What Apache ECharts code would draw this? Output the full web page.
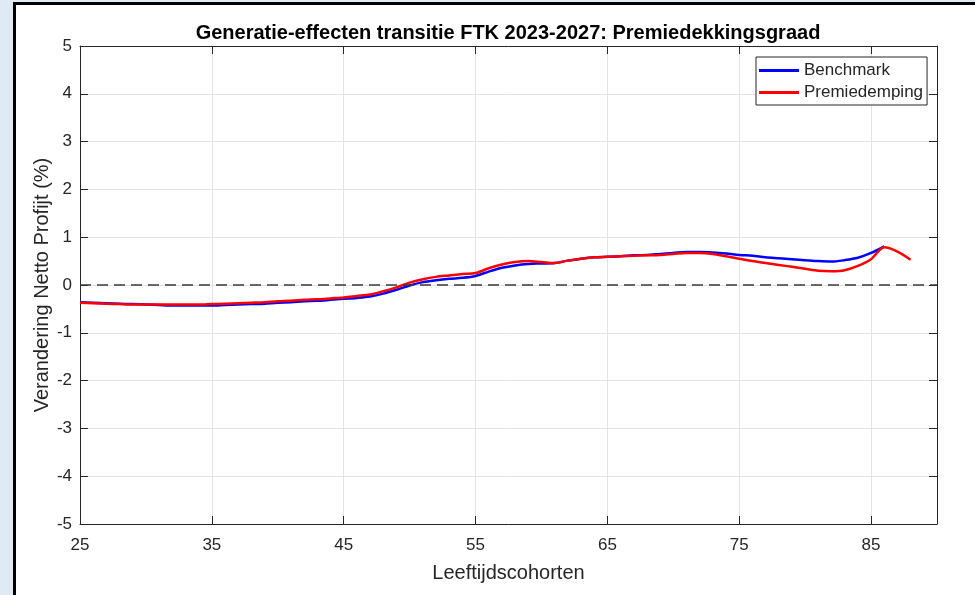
<!DOCTYPE html>
<html>
<head>
<meta charset="utf-8">
<script src="https://cdn.jsdelivr.net/npm/echarts@6/dist/echarts.min.js"></script>
<style>
  html, body { margin: 0; padding: 0; background: #dfeaf5; overflow: hidden; }
  .frame { position: absolute; left: 13px; top: 2px; width: 980px; height: 610px; background: #fff; border: 3px solid #000; }
  #chart { position: absolute; left: 0; top: 0; width: 975px; height: 595px; }
</style>
</head>
<body>
<div class="frame"></div>
<div id="chart"></div>
<script>
// leeftijdscohorten en effecten (%)
const agesBenchmark = [];
for (let a = 25; a <= 86; a++) agesBenchmark.push(a);
const agesPremie = [];
for (let a = 25; a <= 88; a++) agesPremie.push(a);

const benchmark = [
  -0.36, -0.37, -0.38, -0.39, -0.40, -0.41, -0.42, -0.43, -0.43, -0.43,
  -0.43, -0.42, -0.41, -0.40, -0.39, -0.37, -0.36, -0.34, -0.33, -0.31,
  -0.29, -0.27, -0.24, -0.18, -0.10, -0.01, 0.06, 0.10, 0.13, 0.15,
  0.19, 0.28, 0.36, 0.41, 0.44, 0.45, 0.46, 0.51, 0.55, 0.58,
  0.59, 0.60, 0.62, 0.63, 0.65, 0.67, 0.69, 0.69, 0.68, 0.66,
  0.63, 0.61, 0.58, 0.56, 0.54, 0.52, 0.50, 0.49, 0.52, 0.57,
  0.67, 0.81
];
const premiedemping = [
  -0.37, -0.38, -0.39, -0.40, -0.41, -0.41, -0.41, -0.41, -0.41, -0.41,
  -0.40, -0.39, -0.38, -0.37, -0.36, -0.34, -0.33, -0.31, -0.30, -0.28,
  -0.26, -0.23, -0.20, -0.13, -0.05, 0.05, 0.12, 0.17, 0.20, 0.23,
  0.25, 0.35, 0.43, 0.48, 0.50, 0.48, 0.46, 0.51, 0.55, 0.58,
  0.59, 0.60, 0.61, 0.62, 0.63, 0.65, 0.67, 0.67, 0.65, 0.60,
  0.55, 0.50, 0.46, 0.42, 0.38, 0.34, 0.30, 0.29, 0.31, 0.40,
  0.54, 0.79, 0.70, 0.53
];

const textColor = '#262626';
const font = 'Liberation Sans, Arial, sans-serif';

const chart = echarts.init(document.getElementById('chart'));

const option = {
  animation: false,
  textStyle: { fontFamily: font },
  title: {
    text: 'Generatie-effecten transitie FTK 2023-2027: Premiedekkingsgraad',
    left: 503,
    top: 18,
    textAlign: 'center',
    textStyle: { fontSize: 20, fontWeight: 'bold', color: '#000', fontFamily: font }
  },
  legend: {
    orient: 'vertical',
    left: 756,
    top: 57,
    padding: [5, 4, 4, 3],
    itemGap: 5,
    itemWidth: 40,
    itemHeight: 3,
    itemTextGap: 3,
    icon: 'rect',
    backgroundColor: '#fff',
    borderColor: textColor,
    borderWidth: 1,
    borderRadius: 0,
    textStyle: { fontSize: 17, color: textColor, lineHeight: 17, fontFamily: font },
    data: ['Benchmark', 'Premiedemping']
  },
  grid: { left: 80, right: 38, top: 46, bottom: 71 },
  xAxis: [{
    type: 'value',
    min: 25,
    max: 90,
    interval: 10,
    name: 'Leeftijdscohorten',
    nameLocation: 'middle',
    nameGap: 39,
    nameMoveOverlap: false,
    nameTextStyle: { fontSize: 20, color: textColor, fontFamily: font },
    axisLine: { onZero: false, lineStyle: { color: textColor, width: 1 } },
    axisTick: { inside: true, length: 8, lineStyle: { color: textColor } },
    axisLabel: { fontSize: 17, color: textColor, margin: 13, showMaxLabel: false, fontFamily: font },
    splitLine: { show: true, lineStyle: { color: '#e3e3e3', width: 1 } }
  }, {
    type: 'value',
    position: 'top',
    min: 25,
    max: 90,
    interval: 10,
    axisLine: { show: true, onZero: false, lineStyle: { color: textColor, width: 1 } },
    axisTick: { inside: true, length: 8, lineStyle: { color: textColor } },
    axisLabel: { show: false },
    splitLine: { show: false }
  }],
  yAxis: [{
    type: 'value',
    min: -5,
    max: 5,
    interval: 1,
    name: 'Verandering Netto Profijt (%)',
    nameLocation: 'middle',
    nameGap: 28,
    nameMoveOverlap: false,
    nameTextStyle: { fontSize: 20, color: textColor, fontFamily: font },
    axisLine: { show: true, onZero: false, lineStyle: { color: textColor, width: 1 } },
    axisTick: { show: true, inside: true, length: 8, lineStyle: { color: textColor } },
    axisLabel: { fontSize: 17, color: textColor, margin: 8, fontFamily: font },
    splitLine: { show: true, lineStyle: { color: '#e3e3e3', width: 1 } }
  }, {
    type: 'value',
    position: 'right',
    min: -5,
    max: 5,
    interval: 1,
    axisLine: { show: true, onZero: false, lineStyle: { color: textColor, width: 1 } },
    axisTick: { show: true, inside: true, length: 8, lineStyle: { color: textColor } },
    axisLabel: { show: false },
    splitLine: { show: false }
  }],
  series: [{
    name: 'Benchmark',
    type: 'line',
    data: agesBenchmark.map((a, i) => [a, benchmark[i]]),
    showSymbol: false,
    smooth: 0.3,
    itemStyle: { color: '#0000ff' },
    lineStyle: { color: '#0000ff', width: 2.5 },
    markLine: {
      silent: true,
      symbol: 'none',
      label: { show: false },
      lineStyle: { color: '#3a3a3a', type: [11, 6], width: 1.6 },
      data: [{ yAxis: 0 }]
    }
  }, {
    name: 'Premiedemping',
    type: 'line',
    data: agesPremie.map((a, i) => [a, premiedemping[i]]),
    showSymbol: false,
    smooth: 0.3,
    itemStyle: { color: '#ff0000' },
    lineStyle: { color: '#ff0000', width: 2.5 }
  }]
};

chart.setOption(option);
</script>
</body>
</html>
